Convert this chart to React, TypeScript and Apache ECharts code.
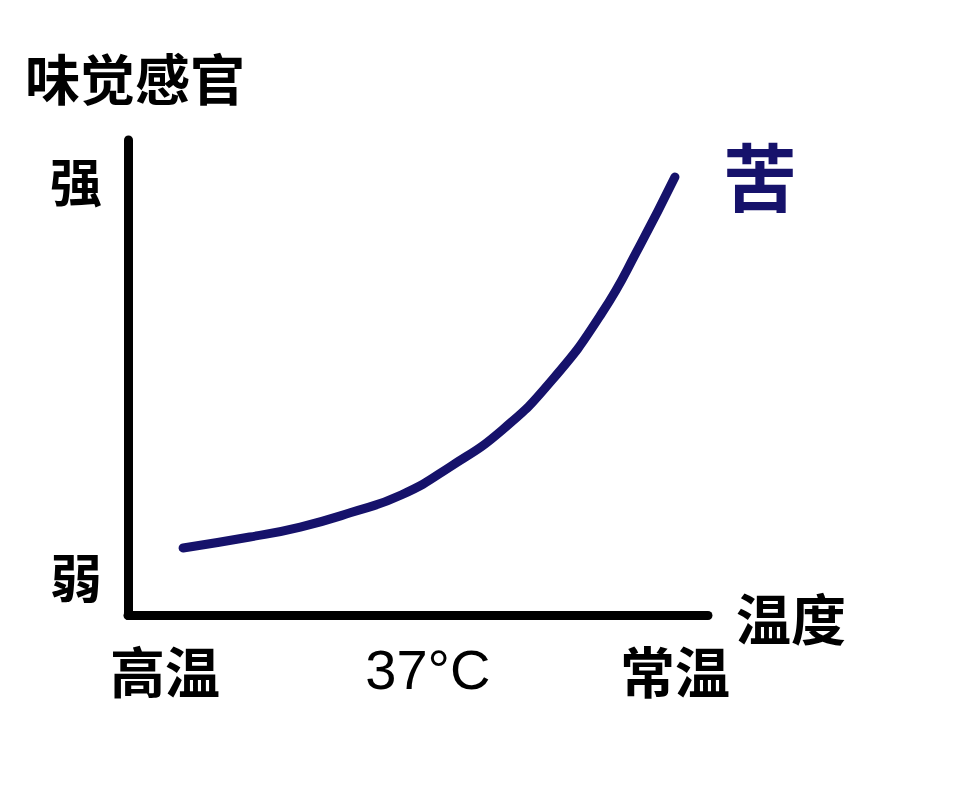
import React, { useEffect, useRef } from "react";
import * as echarts from "echarts";

const curveX = [9.5, 21.0, 29.7, 38.3, 47.2, 55.7, 64.5, 73.1, 81.7, 88.3, 94.3];
const curveY = [14.2, 16.5, 18.6, 21.6, 25.4, 31.4, 39.0, 49.5, 63.6, 77.9, 92.2];
const xTickValues = [6.4, 51.7, 94.3];
const xTickLabels = ["高温", "37°C", "常温"];
const yTickValues = [8.5, 91.6];
const yTickLabels = ["弱", "强"];
const seriesName = "苦";
const xAxisName = "温度";
const yAxisName = "味觉感官";

const CJK = "'Noto Sans CJK SC', 'Noto Sans', sans-serif";
const NAVY = "#16126b";

function nearest(vals: number[], v: number) {
  let best = 0;
  for (let i = 1; i < vals.length; i++) {
    if (Math.abs(vals[i] - v) < Math.abs(vals[best] - v)) best = i;
  }
  return best;
}

export default function App() {
  const ref = useRef<HTMLDivElement>(null);
  useEffect(() => {
    document.body.style.margin = "0";
    if (!ref.current) return;
    const chart = echarts.init(ref.current, null, { renderer: "svg" });
    chart.setOption({
      animation: false,
      backgroundColor: "#ffffff",
      grid: { left: 128, top: 140, width: 580, height: 475.5 },
      xAxis: {
        type: "value",
        min: 0,
        max: 100,
        name: xAxisName,
        nameLocation: "end",
        nameGap: 28,
        nameTextStyle: {
          fontFamily: CJK,
          fontSize: 55,
          fontWeight: "bold",
          color: "#000",
          align: "left",
          verticalAlign: "middle",
          padding: [0, 0, 6, 0],
        },
        axisLine: { show: true, lineStyle: { color: "#000", width: 9, cap: "round" } },
        axisTick: { show: false },
        splitLine: { show: false },
        axisLabel: {
          customValues: xTickValues,
          margin: 26,
          fontFamily: CJK,
          fontSize: 55,
          fontWeight: "bold",
          color: "#000",
          formatter: (v: number) => {
            const t = xTickLabels[nearest(xTickValues, v)];
            return t.indexOf("°") >= 0 ? "{lat|" + t + "}" : t;
          },
          rich: {
            lat: {
              fontFamily: "'Liberation Sans', Arial, sans-serif",
              fontSize: 56,
              fontWeight: "normal",
              color: "#000",
            },
          },
        },
      },
      yAxis: {
        type: "value",
        min: 0,
        max: 100,
        name: yAxisName,
        nameLocation: "end",
        nameGap: 64,
        nameTextStyle: {
          fontFamily: CJK,
          fontSize: 55,
          fontWeight: "bold",
          color: "#000",
          align: "center",
          verticalAlign: "middle",
          padding: [0, 0, 0, 14],
        },
        axisLine: { show: true, lineStyle: { color: "#000", width: 9, cap: "round" } },
        axisTick: { show: false },
        splitLine: { show: false },
        axisLabel: {
          customValues: yTickValues,
          margin: 26,
          fontFamily: CJK,
          fontSize: 52,
          fontWeight: "bold",
          color: "#000",
          formatter: (v: number) => yTickLabels[nearest(yTickValues, v)],
        },
      },
      series: [
        {
          type: "line",
          name: seriesName,
          data: curveX.map((x, i) => [x, curveY[i]]),
          smooth: 0.5,
          showSymbol: false,
          symbol: "none",
          lineStyle: { color: NAVY, width: 9, cap: "round", join: "round" },
          endLabel: {
            show: true,
            formatter: seriesName,
            distance: 48,
            offset: [0, -4],
            fontFamily: CJK,
            fontSize: 74,
            fontWeight: "bold",
            color: NAVY,
          },
        },
      ],
    });
    return () => chart.dispose();
  }, []);
  return <div ref={ref} style={{ width: 957, height: 800 }} />;
}
